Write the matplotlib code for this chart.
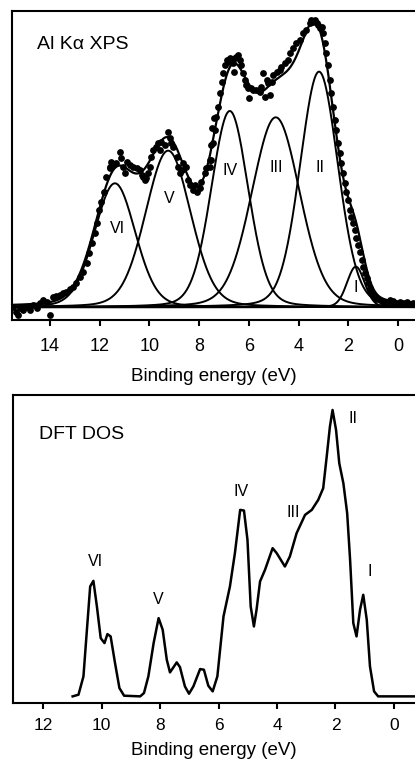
import numpy as np
import matplotlib.pyplot as plt

plt.rcParams['font.family'] = ['Liberation Sans', 'DejaVu Sans']

# ---- Al K-alpha XPS: fitted components (centre eV, height, half width at half max eV)
peak_names = ["VI", "V", "IV", "III", "II", "I"]
peak_centres = [11.39, 9.25, 6.77, 4.92, 3.18, 1.70]
peak_heights = [372, 470, 589, 570, 707, 122]
peak_hwhm = [0.97, 1.07, 0.88, 1.14, 0.90, 0.42]
lorentz_frac = 0.15

# measured XPS points
xps_energy = [15.48, 15.35, 15.28, 15.21, 15.08, 14.95, 14.81, 14.68, 14.54, 14.41,
              14.28, 14.14, 14.01, 13.87, 13.74, 13.61, 13.47, 13.34, 13.20, 13.07,
              12.94, 12.80, 12.67, 12.53, 12.43, 12.33, 12.20, 12.10, 12.02, 11.93,
              11.84, 11.73, 11.60, 11.53,
              11.60, 11.46, 11.33, 11.19, 11.13, 11.06, 10.99, 10.92, 10.79, 10.66,
              10.52, 10.39, 10.32, 10.25, 10.19, 10.12, 10.05, 9.99, 9.92, 9.85,
              9.72, 9.65, 9.58, 9.52, 9.38, 9.25, 9.18, 9.12, 9.05, 8.91,
              8.85, 8.78, 8.71, 8.65, 8.54, 8.45, 8.38, 8.24, 8.18, 8.08,
              7.98, 7.91, 7.77, 7.71, 7.57, 7.51, 7.47, 7.41,
              7.57, 7.51, 7.44, 7.37, 7.31, 7.24, 7.17, 7.10, 7.04, 6.97,
              6.90, 6.84, 6.77, 6.70, 6.64, 6.61, 6.57, 6.50, 6.43, 6.37,
              6.30, 6.23, 6.17, 6.10, 6.03, 5.99, 5.90, 5.83, 5.70, 5.56,
              5.50, 5.43, 5.36, 5.29, 5.23, 5.16, 5.09, 5.03, 4.89, 4.76,
              4.69, 4.56, 4.42, 4.36, 4.22, 4.09, 3.95, 3.82, 3.69, 3.55,
              3.49, 3.42, 3.35, 3.28, 3.22, 3.15, 3.08, 3.02, 2.95, 2.88,
              2.82, 2.75, 2.68, 2.61, 2.55, 2.48, 2.41, 2.35, 2.28, 2.21,
              2.14, 2.08, 2.01, 1.94, 1.88, 1.81, 1.74, 1.68, 1.61, 1.54,
              1.47, 1.41, 1.34, 1.27, 1.21, 1.14, 1.07, 1.01, 0.94, 0.87,
              0.74, 0.60, 0.47, 0.34, 0.20, 0.07, -0.07, -0.20, -0.34, -0.47,
              -0.60]
xps_counts = [2, -13, -23, -3, -8, 2, -8, 7, -3, 12,
              22, 17, -23, 30, 34, 37, 42, 47, 54, 62,
              72, 92, 107, 132, 162, 192, 222, 252, 292, 317,
              347, 392, 422, 437,
              417, 427, 432, 467, 447, 422, 402, 437, 427, 422,
              417, 412, 397, 392, 382, 387, 402, 422, 452, 472,
              482, 492, 472, 497, 487, 527, 507, 492, 482, 452,
              422, 402, 412, 432, 422, 382, 367, 352, 367, 347,
              357, 377, 402, 417, 442, 487, 537, 567,
              422, 442, 492, 532, 572, 602, 642, 677, 702, 727,
              742, 737, 747, 742, 732, 707, 747, 752, 757, 742,
              727, 702, 682, 667, 657, 627, 657, 652, 652, 647,
              662, 702, 632, 682, 672, 637, 677, 697, 707, 712,
              722, 732, 742, 762, 777, 792, 802, 822, 832, 852,
              862, 857, 862, 852, 847, 837, 842, 822, 792, 762,
              727, 682, 642, 602, 562, 532, 492, 462, 432, 402,
              372, 347, 322, 292, 272, 252, 232, 207, 187, 167,
              142, 122, 102, 87, 72, 57, 47, 37, 32, 24,
              22, 17, 12, 22, 20, 14, 17, 12, 17, 10,
              12]

# ---- DFT density of states
dos_energy = [10.99, 10.79, 10.62, 10.51, 10.39, 10.28, 10.16, 10.03, 9.90, 9.80,
              9.69, 9.54, 9.39, 9.23, 8.68, 8.55, 8.40, 8.22, 8.05, 7.91,
              7.77, 7.66, 7.43, 7.32, 7.15, 7.01, 6.86, 6.63, 6.50, 6.35,
              6.20, 6.04, 5.83, 5.61, 5.44, 5.26, 5.13, 5.01, 4.90, 4.79,
              4.70, 4.58, 4.41, 4.15, 4.01, 3.73, 3.56, 3.33, 3.04, 2.81,
              2.59, 2.42, 2.30, 2.19, 2.10, 1.98, 1.87, 1.73, 1.60, 1.50,
              1.39, 1.28, 1.16, 1.05, 0.93, 0.82, 0.68, 0.54, -0.72]
dos_value = [0, 5, 60, 190, 330, 347, 270, 175, 160, 187,
             180, 100, 25, 2, 0, 10, 60, 160, 235, 200,
             110, 72, 102, 88, 30, 8, 30, 82, 80, 32,
             15, 60, 240, 330, 430, 560, 558, 470, 270, 210,
             260, 345, 380, 445, 430, 390, 420, 490, 545, 560,
             590, 625, 720, 810, 860, 800, 700, 640, 550, 410,
             220, 180, 260, 305, 230, 90, 15, 0, 0]
dos_names = ["VI", "V", "IV", "III", "II", "I"]
dos_label_energy = [10.22, 8.06, 5.24, 3.44, 1.39, 0.84]
dos_label_value = [405, 290, 615, 552, 835, 375]

xps_label_energy = [11.30, 9.22, 6.74, 4.92, 3.15, 1.70]
xps_label_value = [237, 327, 410, 420, 420, 60]


def component(e, c, h, w):
    t = ((e - c) / w) ** 2
    return h * ((1 - lorentz_frac) * np.exp(-np.log(2) * t) + lorentz_frac / (1 + t))


def style_axes(ax, lab_size, pad):
    for side in ["left", "top", "bottom"]:
        ax.spines[side].set_linewidth(1.5)
    ax.spines["right"].set_visible(False)
    ax.set_yticks([])
    ax.tick_params(axis="x", direction="out", length=4.5, width=1.5,
                   labelsize=lab_size, pad=pad)


fig = plt.figure(figsize=(4.15, 7.64), dpi=100)

# top panel: XPS
ax1 = fig.add_axes([0.0289, 0.5812, 0.9711, 0.4044])
e = np.linspace(-0.8, 15.6, 900)
total = np.zeros_like(e)
for c, h, w in zip(peak_centres, peak_heights, peak_hwhm):
    y = component(e, c, h, w)
    total += y
    ax1.plot(e, y, color="black", lw=1.4)
ax1.plot(e, total, color="black", lw=1.6)
ax1.axhline(0, color="black", lw=1.4)
ax1.scatter(xps_energy, xps_counts, s=15, color="black", zorder=3)
for name, x, y in zip(peak_names, xps_label_energy, xps_label_value):
    ax1.text(x, y, name, ha="center", va="center", fontsize=11.5)
ax1.text(14.52, 789, "Al K\u03b1 XPS", ha="left", va="center", fontsize=14)
ax1.set_xlim(15.53, -0.68)
ax1.set_ylim(-38, 889)
ax1.set_xticks(np.arange(0, 15, 2))
style_axes(ax1, 13, 8.5)
ax1.set_xlabel("Binding energy (eV)", fontsize=13.5, labelpad=9)

# bottom panel: DFT DOS
ax2 = fig.add_axes([0.0306, 0.0798, 0.9694, 0.4032])
ax2.plot(dos_energy, dos_value, color="black", lw=1.8)
for name, x, y in zip(dos_names, dos_label_energy, dos_label_value):
    ax2.text(x, y, name, ha="center", va="center", fontsize=11.5)
ax2.text(12.13, 785, "DFT DOS", ha="left", va="center", fontsize=14)
ax2.set_xlim(13.04, -0.72)
ax2.set_ylim(-20, 905)
ax2.set_xticks(np.arange(0, 13, 2))
style_axes(ax2, 12.5, 6)
ax2.set_xlabel("Binding energy (eV)", fontsize=13.5, labelpad=7)

fig.savefig("out.png", dpi=100)
